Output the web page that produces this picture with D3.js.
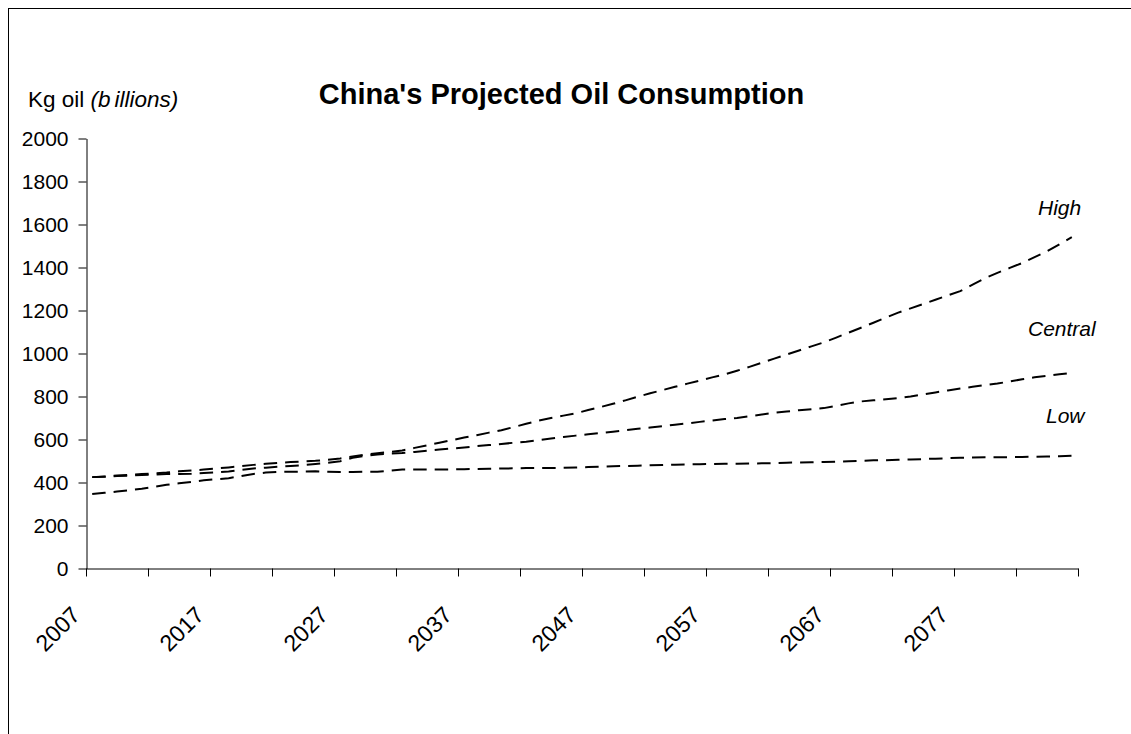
<!DOCTYPE html>
<html>
<head>
<meta charset="utf-8">
<script src="https://cdn.jsdelivr.net/npm/d3@7"></script>
<style>
  html, body { margin: 0; padding: 0; background: #fff; }
  svg { display: block; font-family: "Liberation Sans", Arial, sans-serif; }
</style>
</head>
<body>
<svg id="chart" width="1131" height="734"></svg>
<script>
// Years 2007..2086, one category per year
const years = d3.range(2007, 2087);

// Projected consumption, kg oil (billions)
const highValues = [
  425, 428, 432, 436, 439, 442, 446, 452, 456, 460,
  465, 470, 476, 482, 487, 491, 495, 498, 501, 506,
  512, 521, 529, 536, 542, 549, 561, 573, 585, 597,
  609, 620, 632, 643, 658, 673, 688, 700, 711, 722,
  737, 751, 766, 782, 799, 815, 830, 845, 860, 874,
  889, 903, 920, 938, 957, 976, 995, 1014, 1033, 1052,
  1074, 1097, 1120, 1143, 1167, 1190, 1210, 1230, 1250, 1270,
  1290, 1320, 1350, 1375, 1398, 1421, 1448, 1475, 1508, 1541
];
const centralValues = [
  425, 427, 430, 432, 435, 437, 439, 440, 441, 444,
  447, 451, 458, 465, 469, 473, 477, 481, 486, 492,
  499, 515, 524, 530, 534, 537, 542, 548, 553, 558,
  563, 569, 574, 579, 585, 590, 597, 605, 612, 618,
  624, 630, 636, 643, 650, 656, 662, 669, 675, 682,
  688, 695, 700, 708, 716, 724, 730, 736, 741, 746,
  757, 768, 777, 782, 787, 792, 800, 810, 819, 828,
  837, 845, 853, 860, 870, 880, 889, 896, 903, 910
];
const lowValues = [
  346, 352, 358, 364, 371, 380, 389, 396, 403, 410,
  415, 420, 430, 440, 446, 449, 450, 451, 452, 450,
  449, 449, 450, 450, 455, 460, 460, 460, 460, 461,
  462, 463, 464, 465, 466, 467, 467, 468, 468, 470,
  472, 474, 476, 477, 478, 480, 481, 483, 484, 485,
  486, 487, 487, 488, 489, 490, 492, 493, 494, 495,
  497, 499, 501, 503, 504, 506, 507, 509, 511, 513,
  515, 516, 517, 517, 518, 519, 520, 521, 522, 524
];

const seriesNames = ["High", "Central", "Low"];
const yTickValues = [0, 200, 400, 600, 800, 1000, 1200, 1400, 1600, 1800, 2000];
const xTickLabels = ["2007", "2017", "2027", "2037", "2047", "2057", "2067", "2077"];

const chartTitle = "China's Projected Oil Consumption";

const svg = d3.select("#chart");

// Outer frame
svg.append("rect")
  .attr("x", 8.5).attr("y", 8.5)
  .attr("width", 1200).attr("height", 800)
  .attr("fill", "none").attr("stroke", "#000").attr("stroke-width", 1);

const plot = { left: 86, right: 1078, top: 138.5, bottom: 568.5 };

// Category boundaries 0..80 map across the plot; points sit at category centres
const xb = d3.scaleLinear().domain([0, years.length]).range([plot.left, plot.right]);
const x = i => xb(i + 0.5);
const y = d3.scaleLinear().domain([0, 2000]).range([plot.bottom, plot.top]);

// Y axis
const yAxis = svg.append("g")
  .attr("transform", `translate(${plot.left + 0.5},0)`)
  .call(d3.axisLeft(y).tickValues(yTickValues).tickSize(8).tickSizeOuter(0).tickPadding(10).tickFormat(d3.format("d")));
yAxis.selectAll("text").attr("font-size", 21).attr("fill", "#000")
  .attr("font-family", "Liberation Sans, Arial, sans-serif");
yAxis.selectAll("line, path").attr("stroke", "#000");

// X axis: a tick every 5 categories, labels every 10
const xTickPositions = d3.range(0, years.length + 1, 5);
const xAxis = svg.append("g")
  .attr("transform", `translate(0,${plot.bottom})`)
  .call(d3.axisBottom(xb).tickValues(xTickPositions).tickSize(8).tickSizeOuter(0).tickFormat(""));
xAxis.selectAll("line, path").attr("stroke", "#000");
xAxis.selectAll(".tick").attr("transform", d => `translate(${Math.round(xb(d)) + 0.5},0)`);

svg.append("g").selectAll("text")
  .data(xTickLabels)
  .join("text")
  .attr("transform", (d, i) => `translate(${xb(i * 10) - 4.5},${plot.bottom + 48}) rotate(-45)`)
  .attr("text-anchor", "end")
  .attr("font-size", 23)
  .attr("fill", "#000")
  .text(d => d);

// Series lines
const line = d3.line().x((d, i) => x(i)).y(d => y(d));
const allSeries = [highValues, centralValues, lowValues];
svg.append("g").selectAll("path")
  .data(allSeries)
  .join("path")
  .attr("d", line)
  .attr("fill", "none")
  .attr("stroke", "#000")
  .attr("stroke-width", 2)
  .attr("stroke-dasharray", "13.5,8");

// Series labels
const labelPos = [
  { x: 1038, y: 215 },
  { x: 1028, y: 336 },
  { x: 1046, y: 423 }
];
svg.append("g").selectAll("text")
  .data(seriesNames)
  .join("text")
  .attr("x", (d, i) => labelPos[i].x)
  .attr("y", (d, i) => labelPos[i].y)
  .attr("font-size", 21)
  .attr("font-style", "italic")
  .attr("fill", "#000")
  .text(d => d);

// Axis title
const yTitle = svg.append("text")
  .attr("x", 28).attr("y", 106.5)
  .attr("font-size", 22.5)
  .attr("fill", "#000");
yTitle.append("tspan").text("Kg oil ");
yTitle.append("tspan").attr("font-style", "italic").text("(b");
yTitle.append("tspan").attr("font-style", "italic").attr("dx", 4).text("illions)");

// Chart title
svg.append("text")
  .attr("x", 561.5).attr("y", 104)
  .attr("text-anchor", "middle")
  .attr("font-size", 29)
  .attr("font-weight", "bold")
  .attr("fill", "#000")
  .text(chartTitle);
</script>
</body>
</html>
